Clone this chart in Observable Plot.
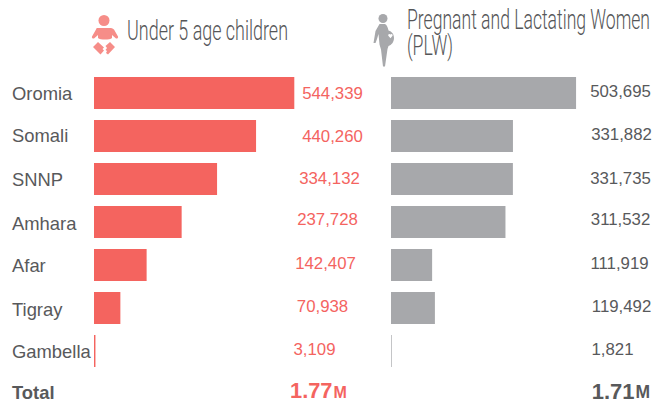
<!DOCTYPE html>
<html><head><meta charset="utf-8">
<script src="https://cdn.jsdelivr.net/npm/d3@7"></script>
<script src="https://cdn.jsdelivr.net/npm/@observablehq/plot@0.6"></script>
<style>
html,body{margin:0;padding:0;background:#fff}
#wrap{position:relative;width:670px;height:404px;overflow:hidden}
.ttl{position:absolute;font-family:"Roboto",sans-serif;font-weight:300;color:#555658;font-size:28px;line-height:26px;transform-origin:0 0;white-space:nowrap}
.ico{position:absolute;left:0;top:0}
</style></head><body><div id="wrap"></div>
<script>
const regions = ["Oromia","Somali","SNNP","Amhara","Afar","Tigray","Gambella"];
const under5 = [544339,440260,334132,237728,142407,70938,3109];
const plw = [503695,331882,331735,311532,111919,119492,1821];
const totalLabel = "Total";
const totals = {u5:"1.77", plw:"1.71"};
const totalUnit = "M";

// layout only
const red="#f4645f", grey="#a7a8ab", ink="#58595b";
const font='"Liberation Sans",Arial,sans-serif';
const u5Shift=[[238,0],[238,0],[235,-1],[233,-3],[231,-2],[228,-2],[220,-2]];
const plwShift=[[229,-2],[230,-2],[229,-1],[229,-3],[228,-2],[230,-2],[221,-2]];
const nameDy=[1,0,1,2,1,2,1];

const panels=["u5","plw"];
const rows=[...regions,totalLabel];
const table=[
  ...regions.map((r,i)=>({panel:"u5",region:r,value:under5[i],i})),
  ...regions.map((r,i)=>({panel:"plw",region:r,value:plw[i],i}))
];
const fmt=d3.format(",");
const marks=[
  Plot.rectX(table.filter(d=>d.panel==="u5"),{fx:"panel",y:"region",x1:0,x2:"value",fill:red,insetRight:-0.3}),
  Plot.rectX(table.filter(d=>d.panel==="plw"),{fx:"panel",y:"region",x1:0,x2:"value",fill:grey})
];
table.forEach(d=>{
  const s=(d.panel==="u5"?u5Shift:plwShift)[d.i];
  marks.push(Plot.text([d],{fx:"panel",y:"region",x:0,text:v=>fmt(v.value),dx:s[0],dy:s[1],
    fill:d.panel==="u5"?red:ink,fontSize:16.8,textAnchor:"middle"}));
});
regions.forEach((r,i)=>marks.push(Plot.text([r],{fx:()=>"u5",y:v=>v,x:0,text:v=>v,dx:-82.5,dy:nameDy[i],
  fill:ink,fontSize:18.4,textAnchor:"start"})));
marks.push(Plot.text([totalLabel],{fx:()=>"u5",y:v=>v,x:0,text:v=>v,dx:-82.5,dy:-1,fill:ink,fontSize:18.4,fontWeight:"bold",textAnchor:"start"}));
marks.push(Plot.text([totals.u5],{fx:()=>"u5",y:()=>totalLabel,x:0,text:v=>v,dx:238,dy:-3,fill:red,fontSize:21.8,fontWeight:"bold",textAnchor:"end"}));
marks.push(Plot.text([totalUnit],{fx:()=>"u5",y:()=>totalLabel,x:0,text:v=>v,dx:239,dy:-2,fill:red,fontSize:16,fontWeight:"bold",textAnchor:"start"}));
marks.push(Plot.text([totals.plw],{fx:()=>"plw",y:()=>totalLabel,x:0,text:v=>v,dx:243,dy:-3,fill:ink,fontSize:22,fontWeight:"bold",textAnchor:"end"}));
marks.push(Plot.text([totalUnit],{fx:()=>"plw",y:()=>totalLabel,x:0,text:v=>v,dx:244,dy:-2,fill:ink,fontSize:17.5,fontWeight:"bold",textAnchor:"start"}));

const chart=Plot.plot({
  width:670,height:404,marginLeft:0,marginRight:0,marginTop:0,marginBottom:0,
  style:{fontFamily:font,background:"#fff",overflow:"visible"},
  fx:{domain:panels,range:[94,670],paddingInner:18/297,paddingOuter:0,align:0,axis:null},
  x:{domain:[0,544339*279/200],range:[0,279],axis:null},
  y:{domain:rows,range:[70.4,416],paddingInner:0.26,paddingOuter:0.13,axis:null},
  marks
});
const wrap=document.getElementById("wrap");
wrap.appendChild(chart);

function fit(el,target){
  wrap.appendChild(el);
  const w=el.getBoundingClientRect().width;
  el.style.transform=`scaleX(${target/w})`;
}
const t1=document.createElement("div");t1.className="ttl";t1.textContent="Under 5 age children";t1.style.left="127px";t1.style.top="18px";fit(t1,161);
const t2=document.createElement("div");t2.className="ttl";t2.innerHTML="Pregnant and Lactating Women<br>(PLW)";t2.style.left="407px";t2.style.top="7px";fit(t2,243);

const ns="http://www.w3.org/2000/svg";
const ico=document.createElementNS(ns,"svg");
ico.setAttribute("class","ico");ico.setAttribute("width",670);ico.setAttribute("height",80);
ico.innerHTML=`
<g fill="#f68d88">
<circle cx="104" cy="20.500" r="5.500"/>
<path d="M97 28h14c1 0 2 .5 3 1.500l4 7c.5 1-.5 2.500-2 2l-4-3.500v3c-2 2-12 2-14 0v-3l-4 3.500c-1.500.5-2.500-1-2-2l4-7c.500-1 .500-1.500 1-1.500z"/>
<path d="M93 47l5-5 6 5.500-1.500 1.500 1.500 1.500-3.500 4-7.500-7.500z"/>
<path d="M115 47l-5-5-4.500 4 1.500 2-1.500 2 1.500 1-1 2 2 1.500z"/>
</g>
<g fill="#a7a8ab">
<circle cx="383" cy="18.500" r="4.500"/>
<path d="M379.500 24h5.500c2 1 3 4 3.500 6.500 3.500 1 5.500 4 5.500 7.500 0 4-2.500 7-5.500 8l-1 3-2.500 17.500h-2l-2-17-1.500-5-1-10.500-1.500 5-1.500 4h-2l2-12z"/>
<path fill="#fff" d="M390.500 34.500c-1-1.200-2.800-.2-2.200 1.200l2.200 2.500 2-2.500c.6-1.400-1-2.400-2-1.200z"/>
</g>`;
wrap.appendChild(ico);
</script></body></html>
